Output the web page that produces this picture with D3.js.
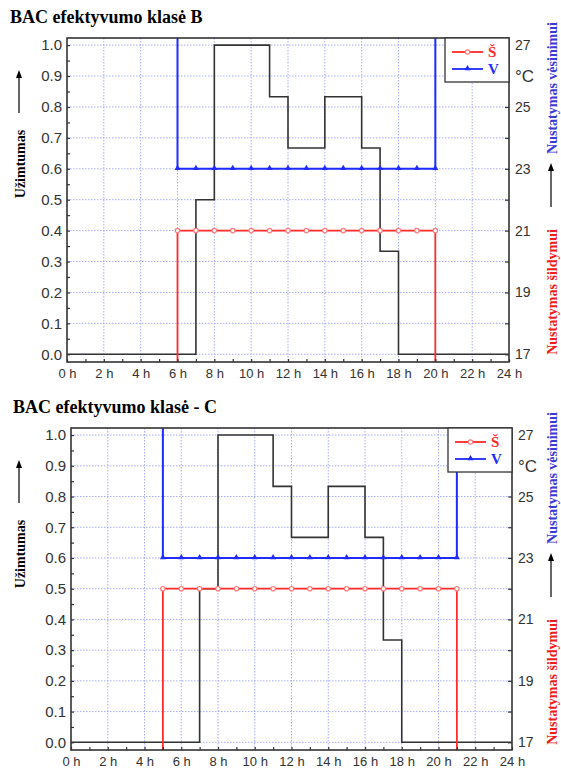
<!DOCTYPE html>
<html>
<head>
<meta charset="utf-8">
<script src="https://cdn.jsdelivr.net/npm/d3@7"></script>
<style>
  body { margin: 0; background: #fff; }
  svg { display: block; }
</style>
</head>
<body>
<svg id="chart" width="561" height="769"></svg>
<script>
// values read per hour (0 h .. 24 h), stepped after each hour
const hours = d3.range(0, 25);
const occupancyB = [0, 0, 0, 0, 0, 0, 0, 0.5, 1, 1, 1, 0.833, 0.667, 0.667, 0.833, 0.833, 0.667, 0.333, 0, 0, 0, 0, 0, 0, 0];
const heatingB   = [15, 15, 15, 15, 15, 15, 21, 21, 21, 21, 21, 21, 21, 21, 21, 21, 21, 21, 21, 21, 15, 15, 15, 15, 15];
const coolingB   = [30, 30, 30, 30, 30, 30, 23, 23, 23, 23, 23, 23, 23, 23, 23, 23, 23, 23, 23, 23, 30, 30, 30, 30, 30];
const occupancyC = [0, 0, 0, 0, 0, 0, 0, 0.5, 1, 1, 1, 0.833, 0.667, 0.667, 0.833, 0.833, 0.667, 0.333, 0, 0, 0, 0, 0, 0, 0];
const heatingC   = [15, 15, 15, 15, 15, 22, 22, 22, 22, 22, 22, 22, 22, 22, 22, 22, 22, 22, 22, 22, 22, 15, 15, 15, 15];
const coolingC   = [30, 30, 30, 30, 30, 23, 23, 23, 23, 23, 23, 23, 23, 23, 23, 23, 23, 23, 23, 23, 23, 30, 30, 30, 30];

const occTicks = d3.range(0, 11).map(d => d / 10);
const tempTicks = [17, 19, 21, 23, 25, 27];
const hourTicks = d3.range(0, 25, 2);

const titles = ["BAC efektyvumo klasė B", "BAC efektyvumo klasė - C"];
const legendLabels = ["Š", "V"];

const RED = "#ff2a2a", BLUE = "#1f2bff", INK = "#333";
const numFont = "'Liberation Sans', Arial, sans-serif";
const serif = "'Liberation Serif', 'Times New Roman', serif";

const svg = d3.select("#chart");

const drawPanel = (p) => {
  const g = svg.append("g").attr("transform", `translate(0,${p.dy})`);
  const x = d3.scaleLinear().domain([0, 24]).range([p.left, p.right]);
  const y = d3.scaleLinear().domain([-0.025, 1.023]).range([p.bottom, p.top]);
  const t = d3.scaleLinear().domain([17, 27]).range([y(0), y(1)]);
  const clipId = "clip" + p.dy;

  g.append("clipPath").attr("id", clipId)
    .append("rect").attr("x", p.left).attr("y", p.top)
    .attr("width", p.right - p.left).attr("height", p.bottom - p.top);

  // title
  g.append("text").attr("x", p.titleX).attr("y", 23)
    .attr("font-family", serif).attr("font-weight", "bold").attr("font-size", 18)
    .attr("fill", "#000").text(p.title);

  // dotted grid
  const grid = g.append("g").attr("stroke", "#a9acff").attr("stroke-width", 1)
    .attr("stroke-dasharray", "1.5,1.5");
  grid.selectAll(".gy").data(occTicks).join("line")
    .attr("x1", p.left).attr("x2", p.right)
    .attr("y1", d => y(d)).attr("y2", d => y(d));
  grid.selectAll(".gx").data(hourTicks.slice(1, -1)).join("line")
    .attr("y1", p.top).attr("y2", p.bottom)
    .attr("x1", d => x(d)).attr("x2", d => x(d));

  const lines = g.append("g").attr("clip-path", `url(#${clipId})`);
  const step = vals => d3.line().curve(d3.curveStepAfter)
    .x((d, i) => x(hours[i])).y(d => vals === "occ" ? y(d) : t(d));

  // occupancy
  lines.append("path").datum(p.occ).attr("fill", "none")
    .attr("stroke", INK).attr("stroke-width", 1.6).attr("d", step("occ"));

  // marker points: hours where the setpoint is on the chart
  const inRange = v => v >= 17 && v <= 27;
  const markPts = vals => hours.map((h, i) => {
    if (inRange(vals[i])) return [h, vals[i]];
    if (i > 0 && inRange(vals[i - 1])) return [h, vals[i - 1]];
    return null;
  }).filter(d => d);

  // heating
  lines.append("path").datum(p.heat).attr("fill", "none")
    .attr("stroke", RED).attr("stroke-width", 1.8).attr("d", step("temp"));
  lines.selectAll(".hm").data(markPts(p.heat)).join("circle")
    .attr("cx", d => x(d[0])).attr("cy", d => t(d[1])).attr("r", 2.2)
    .attr("fill", "#fff").attr("stroke", "#ff7a7a").attr("stroke-width", 1.2);

  // cooling
  lines.append("path").datum(p.cool).attr("fill", "none")
    .attr("stroke", BLUE).attr("stroke-width", 2).attr("d", step("temp"));
  const tri = d3.symbol().type(d3.symbolTriangle).size(16);
  lines.selectAll(".cm").data(markPts(p.cool)).join("path")
    .attr("transform", d => `translate(${x(d[0])},${t(d[1]) - 0.5})`)
    .attr("d", tri).attr("fill", BLUE);

  // frame
  g.append("rect").attr("x", p.left).attr("y", p.top)
    .attr("width", p.right - p.left).attr("height", p.bottom - p.top)
    .attr("fill", "none").attr("stroke", INK).attr("stroke-width", 1.6);

  // left axis
  const yAxis = d3.axisLeft(y).tickValues(occTicks).tickSize(0).tickPadding(5)
    .tickFormat(d3.format(".1f"));
  g.append("g").attr("transform", `translate(${p.left},0)`).call(yAxis)
    .call(a => a.select(".domain").remove())
    .call(a => a.selectAll("text").attr("font-family", numFont)
      .attr("font-size", 15).attr("fill", INK));
  g.append("g").attr("transform", `translate(${p.left},0)`)
    .call(d3.axisRight(y).tickValues(d3.range(0, 21).map(d => d / 20)).tickSize(3).tickFormat(""))
    .call(a => a.select(".domain").remove())
    .call(a => a.selectAll("line").attr("stroke", INK).attr("stroke-width", 1.2));

  // right axis
  g.append("g").attr("transform", `translate(${p.right},0)`)
    .call(d3.axisRight(t).tickValues(tempTicks).tickSize(0).tickPadding(6))
    .call(a => a.select(".domain").remove())
    .call(a => a.selectAll("text").attr("font-family", numFont)
      .attr("font-size", 14).attr("fill", INK));
  g.append("g").attr("transform", `translate(${p.right},0)`)
    .call(d3.axisLeft(t).tickValues(d3.range(17, 28)).tickSize(4).tickFormat(""))
    .call(a => a.select(".domain").remove())
    .call(a => a.selectAll("line").attr("stroke", INK).attr("stroke-width", 1.2));
  g.append("text").attr("x", p.right + 6).attr("y", t(26)).attr("dy", "0.36em")
    .attr("font-family", numFont).attr("font-size", 17).attr("fill", INK).text("°C");

  // bottom axis
  g.append("g").attr("transform", `translate(0,${p.bottom})`)
    .call(d3.axisBottom(x).tickValues(hourTicks).tickSize(0).tickPadding(7)
      .tickFormat(d => d + " h"))
    .call(a => a.select(".domain").remove())
    .call(a => a.selectAll("text").attr("font-family", numFont)
      .attr("font-size", 13).attr("fill", INK));
  g.append("g").attr("transform", `translate(0,${p.bottom})`)
    .call(d3.axisTop(x).tickValues(hours).tickSize(3).tickFormat(""))
    .call(a => a.select(".domain").remove())
    .call(a => a.selectAll("line").attr("stroke", INK).attr("stroke-width", 1.2));

  // legend
  const lx = p.right - 64, ly = p.top;
  const lg = g.append("g").attr("transform", `translate(${lx},${ly})`);
  lg.append("rect").attr("width", 64).attr("height", 44)
    .attr("fill", "#fff").attr("stroke", INK).attr("stroke-width", 1.3);
  [[RED, 14], [BLUE, 31]].forEach(([c, yy], i) => {
    lg.append("line").attr("x1", 7).attr("x2", 38).attr("y1", yy).attr("y2", yy)
      .attr("stroke", c).attr("stroke-width", 1.8);
    if (i === 0) {
      lg.append("circle").attr("cx", 22.5).attr("cy", yy).attr("r", 2.2)
        .attr("fill", "#fff").attr("stroke", "#ff7a7a").attr("stroke-width", 1.2);
    } else {
      lg.append("path").attr("transform", `translate(22.5,${yy - 0.5})`)
        .attr("d", tri).attr("fill", c);
    }
    lg.append("text").attr("x", 43).attr("y", yy).attr("dy", "0.36em")
      .attr("font-family", serif).attr("font-weight", "bold").attr("font-size", 15)
      .attr("fill", c).text(legendLabels[i]);
  });

  // side labels with arrows
  const sideLabel = (cx, cy, txt, col) => g.append("text")
    .attr("transform", `translate(${cx},${cy}) rotate(-90)`)
    .attr("text-anchor", "middle").attr("dy", "0.35em")
    .attr("font-family", serif).attr("font-weight", "bold").attr("font-size", 14)
    .attr("fill", col).text(txt);
  const arrow = (ax, y1, y2) => {
    g.append("line").attr("x1", ax).attr("x2", ax).attr("y1", y1).attr("y2", y2 + 5)
      .attr("stroke", "#000").attr("stroke-width", 1.2);
    g.append("path").attr("d", `M${ax},${y2} L${ax - 3},${y2 + 8} L${ax + 3},${y2 + 8} Z`)
      .attr("fill", "#000");
  };
  sideLabel(20, 164, "Užimtumas", "#000");
  arrow(19, 113, 70);
  sideLabel(552, 88, "Nustatymas vėsinimui", "#3a3ad8");
  arrow(551, 207, 163);
  sideLabel(552, 292, "Nustatymas šildymui", "#ee1c1c");
};

const panels = [
  { dy: 0, title: titles[0], titleX: 10, left: 67, right: 509, top: 38, bottom: 362,
    occ: occupancyB, heat: heatingB, cool: coolingB },
  { dy: 390, title: titles[1], titleX: 13, left: 71, right: 512, top: 38, bottom: 360,
    occ: occupancyC, heat: heatingC, cool: coolingC }
];
panels.forEach(drawPanel);
</script>
</body>
</html>
